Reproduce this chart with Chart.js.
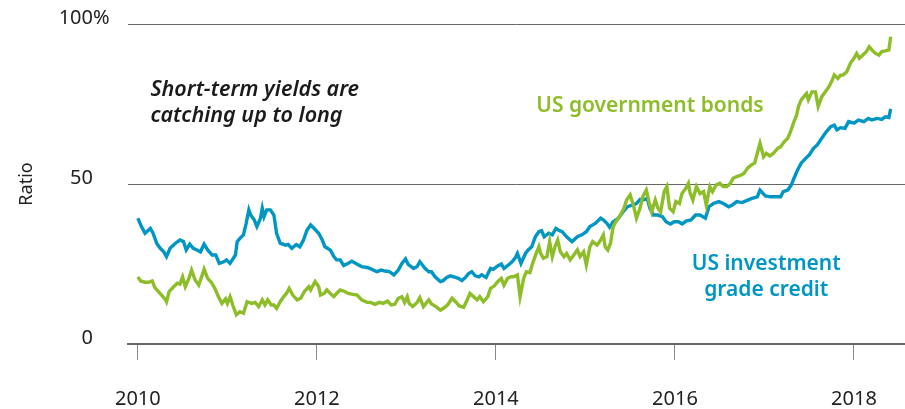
<!DOCTYPE html>
<html>
<head>
<meta charset="utf-8">
<script src="https://cdn.jsdelivr.net/npm/chart.js@4"></script>
<style>
  html, body { margin: 0; padding: 0; background: #fff; }
  #wrap { width: 905px; height: 409px; }
</style>
</head>
<body>
<div id="wrap"><canvas id="ratio_chart" width="905" height="409"></canvas></div>
<script>
// x ticks shown on the axis
const yearTicks = [2010, 2012, 2014, 2016, 2018];
const ratioTicks = [0, 50, 100];

// US investment grade credit (blue)
const creditDates = [2010.00, 2010.04, 2010.08, 2010.14, 2010.17, 2010.21, 2010.25, 2010.29, 2010.32, 2010.36,
  2010.42, 2010.47, 2010.51, 2010.54, 2010.58, 2010.62, 2010.66, 2010.70, 2010.74, 2010.78,
  2010.83, 2010.87, 2010.91, 2010.96, 2010.99, 2011.03, 2011.09, 2011.11, 2011.14, 2011.18,
  2011.21, 2011.24, 2011.26, 2011.30, 2011.33, 2011.37, 2011.39, 2011.41, 2011.44, 2011.48,
  2011.52, 2011.55, 2011.59, 2011.65, 2011.68, 2011.72, 2011.77, 2011.81, 2011.85, 2011.89,
  2011.93, 2011.97, 2012.02, 2012.06, 2012.09, 2012.15, 2012.19, 2012.22, 2012.26, 2012.30,
  2012.35, 2012.39, 2012.45, 2012.50, 2012.56, 2012.61, 2012.67, 2012.72, 2012.76, 2012.81,
  2012.86, 2012.91, 2012.95, 2012.99, 2013.02, 2013.08, 2013.12, 2013.15, 2013.21, 2013.25,
  2013.28, 2013.32, 2013.38, 2013.41, 2013.45, 2013.49, 2013.55, 2013.58, 2013.62, 2013.66,
  2013.69, 2013.73, 2013.77, 2013.81, 2013.84, 2013.89, 2013.94, 2013.97, 2014.02, 2014.06,
  2014.09, 2014.14, 2014.18, 2014.22, 2014.24, 2014.28, 2014.33, 2014.36, 2014.40, 2014.44,
  2014.48, 2014.51, 2014.54, 2014.59, 2014.63, 2014.67, 2014.71, 2014.74, 2014.79, 2014.85,
  2014.91, 2014.96, 2015.01, 2015.05, 2015.11, 2015.17, 2015.20, 2015.24, 2015.27, 2015.31,
  2015.37, 2015.42, 2015.47, 2015.52, 2015.57, 2015.61, 2015.64, 2015.69, 2015.72, 2015.76,
  2015.81, 2015.86, 2015.90, 2015.95, 2015.99, 2016.04, 2016.08, 2016.13, 2016.18, 2016.23,
  2016.28, 2016.34, 2016.38, 2016.43, 2016.49, 2016.54, 2016.60, 2016.64, 2016.69, 2016.75,
  2016.80, 2016.86, 2016.92, 2016.95, 2017.01, 2017.07, 2017.12, 2017.18, 2017.21, 2017.26,
  2017.30, 2017.33, 2017.37, 2017.41, 2017.46, 2017.50, 2017.55, 2017.59, 2017.64, 2017.69,
  2017.74, 2017.78, 2017.81, 2017.85, 2017.90, 2017.94, 2018.00, 2018.05, 2018.11, 2018.16,
  2018.20, 2018.26, 2018.31, 2018.35, 2018.39, 2018.41];
const creditValues = [39.3, 36.7, 34.6, 36.1, 34.6, 31.5, 29.9, 28.8, 27.3, 29.9,
  31.5, 32.5, 32.0, 29.4, 31.2, 29.9, 29.4, 28.8, 31.2, 29.4,
  27.8, 27.8, 25.2, 25.7, 26.3, 25.2, 27.8, 32.0, 33.0, 34.1,
  37.7, 41.9, 40.3, 38.8, 36.7, 39.3, 42.4, 39.8, 41.9, 41.9,
  40.3, 34.6, 31.5, 30.9, 31.1, 29.9, 31.1, 30.4, 32.5, 35.6,
  37.2, 36.1, 34.6, 32.5, 30.4, 29.4, 27.3, 26.3, 26.3, 24.5,
  25.2, 25.9, 24.9, 24.2, 23.9, 23.4, 22.6, 23.1, 22.8, 22.6,
  21.6, 23.1, 25.2, 26.6, 24.9, 23.6, 24.2, 25.7, 23.6, 22.6,
  22.6, 21.0, 19.5, 19.8, 20.8, 21.3, 20.8, 20.5, 19.8, 20.8,
  21.9, 22.6, 21.3, 21.0, 21.6, 20.8, 23.6, 23.3, 24.4, 25.0,
  23.6, 24.7, 25.7, 27.1, 28.3, 25.2, 28.3, 29.4, 30.4, 33.5,
  35.1, 35.4, 33.5, 34.6, 34.1, 36.1, 35.4, 35.1, 33.5, 32.0,
  33.5, 34.1, 35.1, 36.7, 37.7, 39.3, 38.8, 37.7, 36.5, 38.2,
  39.3, 41.3, 42.9, 43.4, 43.9, 45.2, 45.0, 45.5, 42.4, 40.3,
  40.3, 39.8, 38.2, 37.5, 38.2, 38.2, 37.5, 38.5, 38.8, 40.3,
  40.3, 39.3, 42.9, 43.9, 44.5, 43.9, 42.9, 43.4, 44.5, 44.2,
  44.8, 45.5, 46.0, 48.1, 46.3, 46.0, 46.0, 46.0, 47.6, 48.1,
  49.7, 51.8, 54.4, 56.5, 58.0, 59.1, 61.2, 62.2, 64.3, 66.3,
  67.9, 68.4, 66.9, 67.6, 67.4, 69.5, 69.0, 70.0, 69.5, 70.5,
  70.0, 70.5, 70.2, 71.0, 70.8, 73.5];

// US government bonds (green)
const govDates = [2010.00, 2010.03, 2010.08, 2010.12, 2010.16, 2010.19, 2010.23, 2010.27, 2010.31, 2010.32,
  2010.35, 2010.40, 2010.44, 2010.47, 2010.50, 2010.53, 2010.57, 2010.60, 2010.64, 2010.68,
  2010.72, 2010.74, 2010.78, 2010.82, 2010.86, 2010.90, 2010.94, 2010.98, 2011.00, 2011.03,
  2011.06, 2011.10, 2011.14, 2011.18, 2011.22, 2011.27, 2011.31, 2011.35, 2011.39, 2011.42,
  2011.45, 2011.49, 2011.52, 2011.55, 2011.59, 2011.63, 2011.66, 2011.69, 2011.73, 2011.78,
  2011.82, 2011.86, 2011.91, 2011.93, 2011.98, 2012.02, 2012.04, 2012.08, 2012.11, 2012.15,
  2012.19, 2012.22, 2012.26, 2012.31, 2012.35, 2012.40, 2012.45, 2012.50, 2012.56, 2012.60,
  2012.65, 2012.70, 2012.74, 2012.79, 2012.83, 2012.87, 2012.91, 2012.95, 2012.98, 2013.01,
  2013.03, 2013.07, 2013.12, 2013.15, 2013.19, 2013.25, 2013.28, 2013.33, 2013.38, 2013.41,
  2013.46, 2013.51, 2013.55, 2013.59, 2013.64, 2013.68, 2013.71, 2013.75, 2013.79, 2013.82,
  2013.86, 2013.91, 2013.94, 2013.98, 2014.02, 2014.06, 2014.09, 2014.13, 2014.17, 2014.20,
  2014.24, 2014.27, 2014.31, 2014.34, 2014.38, 2014.41, 2014.45, 2014.48, 2014.50, 2014.53,
  2014.57, 2014.60, 2014.63, 2014.66, 2014.69, 2014.72, 2014.76, 2014.79, 2014.83, 2014.87,
  2014.91, 2014.94, 2014.98, 2015.01, 2015.05, 2015.08, 2015.13, 2015.17, 2015.20, 2015.22,
  2015.25, 2015.28, 2015.31, 2015.34, 2015.39, 2015.43, 2015.46, 2015.50, 2015.54, 2015.57,
  2015.61, 2015.64, 2015.68, 2015.71, 2015.74, 2015.78, 2015.81, 2015.84, 2015.88, 2015.91,
  2015.94, 2015.98, 2016.01, 2016.05, 2016.08, 2016.12, 2016.15, 2016.17, 2016.20, 2016.24,
  2016.28, 2016.32, 2016.35, 2016.39, 2016.42, 2016.46, 2016.50, 2016.54, 2016.58, 2016.62,
  2016.65, 2016.69, 2016.74, 2016.77, 2016.81, 2016.85, 2016.89, 2016.92, 2016.95, 2016.99,
  2017.02, 2017.06, 2017.10, 2017.15, 2017.18, 2017.22, 2017.26, 2017.29, 2017.33, 2017.36,
  2017.38, 2017.41, 2017.44, 2017.47, 2017.49, 2017.53, 2017.57, 2017.60, 2017.64, 2017.68,
  2017.72, 2017.75, 2017.78, 2017.82, 2017.85, 2017.88, 2017.92, 2017.96, 2018.00, 2018.03,
  2018.06, 2018.10, 2018.14, 2018.17, 2018.20, 2018.24, 2018.28, 2018.31, 2018.35, 2018.39,
  2018.41];
const govValues = [21.0, 19.7, 19.3, 19.3, 19.7, 17.6, 16.4, 15.1, 13.8, 13.2,
  16.4, 17.9, 19.0, 18.7, 21.0, 17.9, 20.5, 23.1, 20.0, 18.4,
  21.6, 23.4, 20.5, 19.3, 17.4, 14.8, 12.7, 14.1, 12.7, 14.8,
  12.2, 9.1, 10.1, 9.6, 13.2, 12.7, 13.0, 11.7, 13.8, 12.2,
  13.8, 12.2, 12.2, 11.1, 13.2, 14.8, 15.8, 17.4, 15.3, 13.8,
  14.3, 16.4, 17.9, 16.9, 19.5, 17.9, 15.3, 15.8, 16.9, 15.8,
  14.8, 15.8, 16.9, 16.4, 15.8, 15.5, 15.3, 13.8, 13.0, 13.0,
  12.4, 13.0, 12.7, 13.4, 12.2, 12.4, 14.3, 14.8, 13.0, 14.8,
  12.7, 11.7, 13.0, 14.5, 11.7, 13.8, 12.5, 11.7, 10.6, 11.1,
  12.2, 14.3, 13.2, 11.9, 11.5, 13.8, 15.8, 14.8, 13.8, 14.8,
  13.2, 14.8, 17.4, 18.1, 19.5, 20.5, 18.4, 20.5, 21.0, 21.0,
  21.6, 14.8, 20.5, 22.6, 22.3, 25.2, 28.3, 30.4, 28.3, 26.8,
  27.3, 32.0, 27.3, 30.4, 32.5, 28.8, 27.3, 28.3, 26.3, 27.8,
  29.4, 27.3, 28.8, 24.7, 30.4, 32.0, 30.9, 32.5, 34.1, 30.4,
  29.4, 31.5, 36.7, 38.2, 40.3, 42.4, 45.0, 46.6, 42.9, 39.3,
  42.4, 46.0, 48.1, 44.5, 41.3, 45.0, 42.4, 41.3, 47.6, 49.2,
  42.4, 41.3, 44.5, 43.9, 47.1, 48.6, 50.2, 47.1, 45.0, 49.2,
  47.0, 47.6, 43.4, 49.2, 47.6, 49.7, 50.2, 49.2, 49.2, 50.2,
  51.8, 52.3, 52.8, 53.3, 54.9, 55.9, 56.5, 59.6, 62.7, 58.5,
  59.6, 58.8, 59.6, 61.2, 61.6, 63.2, 64.3, 66.3, 69.5, 71.6,
  74.2, 76.3, 77.3, 78.3, 76.3, 78.8, 78.8, 74.2, 77.3, 78.8,
  80.4, 82.0, 84.1, 83.0, 84.0, 84.1, 85.1, 87.7, 89.3, 90.8,
  89.3, 90.3, 91.4, 92.9, 91.9, 90.8, 90.3, 91.4, 91.6, 91.9,
  96.0];

const GREEN = 'rgb(141, 189, 40)';
const BLUE = 'rgb(0, 150, 195)';
const FONT = '"Noto Sans", "Open Sans", sans-serif';

function toPoints(dates, values) {
  return dates.map((d, i) => ({ x: d, y: values[i] }));
}

// free text labels, anchored in data coordinates
const notes = [
  { lines: ['Short-term yields are', 'catching up to long'], x: 2010.14, y: 77.5, align: 'left', color: '#1a1a1a', font: 'italic 600 21.5px ' + FONT },
  { lines: ['US government bonds'], x: 2014.45, y: 72.5, align: 'left', color: GREEN, font: '600 21px ' + FONT },
  { lines: ['US investment', 'grade credit'], x: 2017.02, y: 23.2, align: 'center', color: BLUE, font: '600 21px ' + FONT }
];

const notesPlugin = {
  id: 'notes',
  afterDraw(chart) {
    const { ctx, scales } = chart;
    ctx.save();
    ctx.textBaseline = 'alphabetic';
    notes.forEach(n => {
      ctx.font = n.font;
      ctx.fillStyle = n.color;
      ctx.textAlign = n.align;
      const px = scales.x.getPixelForValue(n.x);
      const py = scales.y.getPixelForValue(n.y);
      n.lines.forEach((t, i) => ctx.fillText(t, px, py + i * 26));
    });
    // percent sign trailing the top label
    ctx.font = '20px ' + FONT;
    ctx.fillStyle = '#222';
    ctx.textAlign = 'left';
    ctx.textBaseline = 'middle';
    ctx.fillText('%', 93, scales.y.getPixelForValue(100) - 6);
    ctx.restore();
  }
};

const ctx = document.getElementById('ratio_chart').getContext('2d');
new Chart(ctx, {
  type: 'line',
  data: {
    datasets: [
      {
        label: 'US government bonds',
        data: toPoints(govDates, govValues),
        borderColor: GREEN,
        borderWidth: 3.4,
        pointRadius: 0,
        tension: 0
      },
      {
        label: 'US investment grade credit',
        data: toPoints(creditDates, creditValues),
        borderColor: BLUE,
        borderWidth: 3.4,
        pointRadius: 0,
        tension: 0
      }
    ]
  },
  options: {
    responsive: false,
    animation: false,
    layout: { padding: { top: 24, right: 0, left: 0, bottom: 0 } },
    plugins: {
      legend: { display: false },
      tooltip: { enabled: false }
    },
    scales: {
      x: {
        type: 'linear',
        min: 2009.89,
        max: 2018.57,
        afterBuildTicks: s => { s.ticks = yearTicks.map(v => ({ value: v })); },
        afterFit: s => { s.height = 65; s.paddingLeft = 0; s.paddingRight = 0; },
        grid: { drawOnChartArea: false, drawTicks: true, tickLength: 16, color: '#888', lineWidth: 1 },
        border: { display: true, color: '#666', width: 2 },
        ticks: {
          color: '#222',
          font: { family: FONT, size: 20 },
          padding: 27,
          maxRotation: 0,
          callback: v => String(v)
        }
      },
      y: {
        min: 0,
        max: 100,
        afterBuildTicks: s => { s.ticks = ratioTicks.map(v => ({ value: v })); },
        afterFit: s => { s.width = 128; s.paddingTop = 0; s.paddingBottom = 0; },
        grid: {
          drawTicks: false,
          color: c => (c.tick && c.tick.value === 0) ? 'rgba(0,0,0,0)' : '#666',
          lineWidth: 1
        },
        border: { display: false },
        title: {
          display: true,
          text: 'Ratio',
          color: '#222',
          font: { family: FONT, size: 18 },
          padding: { top: 16, bottom: 0 }
        },
        ticks: {
          color: '#222',
          font: { family: FONT, size: 20 },
          padding: 35,
          labelOffset: -6,
          callback: v => String(v)
        }
      }
    }
  },
  plugins: [notesPlugin]
});
</script>
</body>
</html>
